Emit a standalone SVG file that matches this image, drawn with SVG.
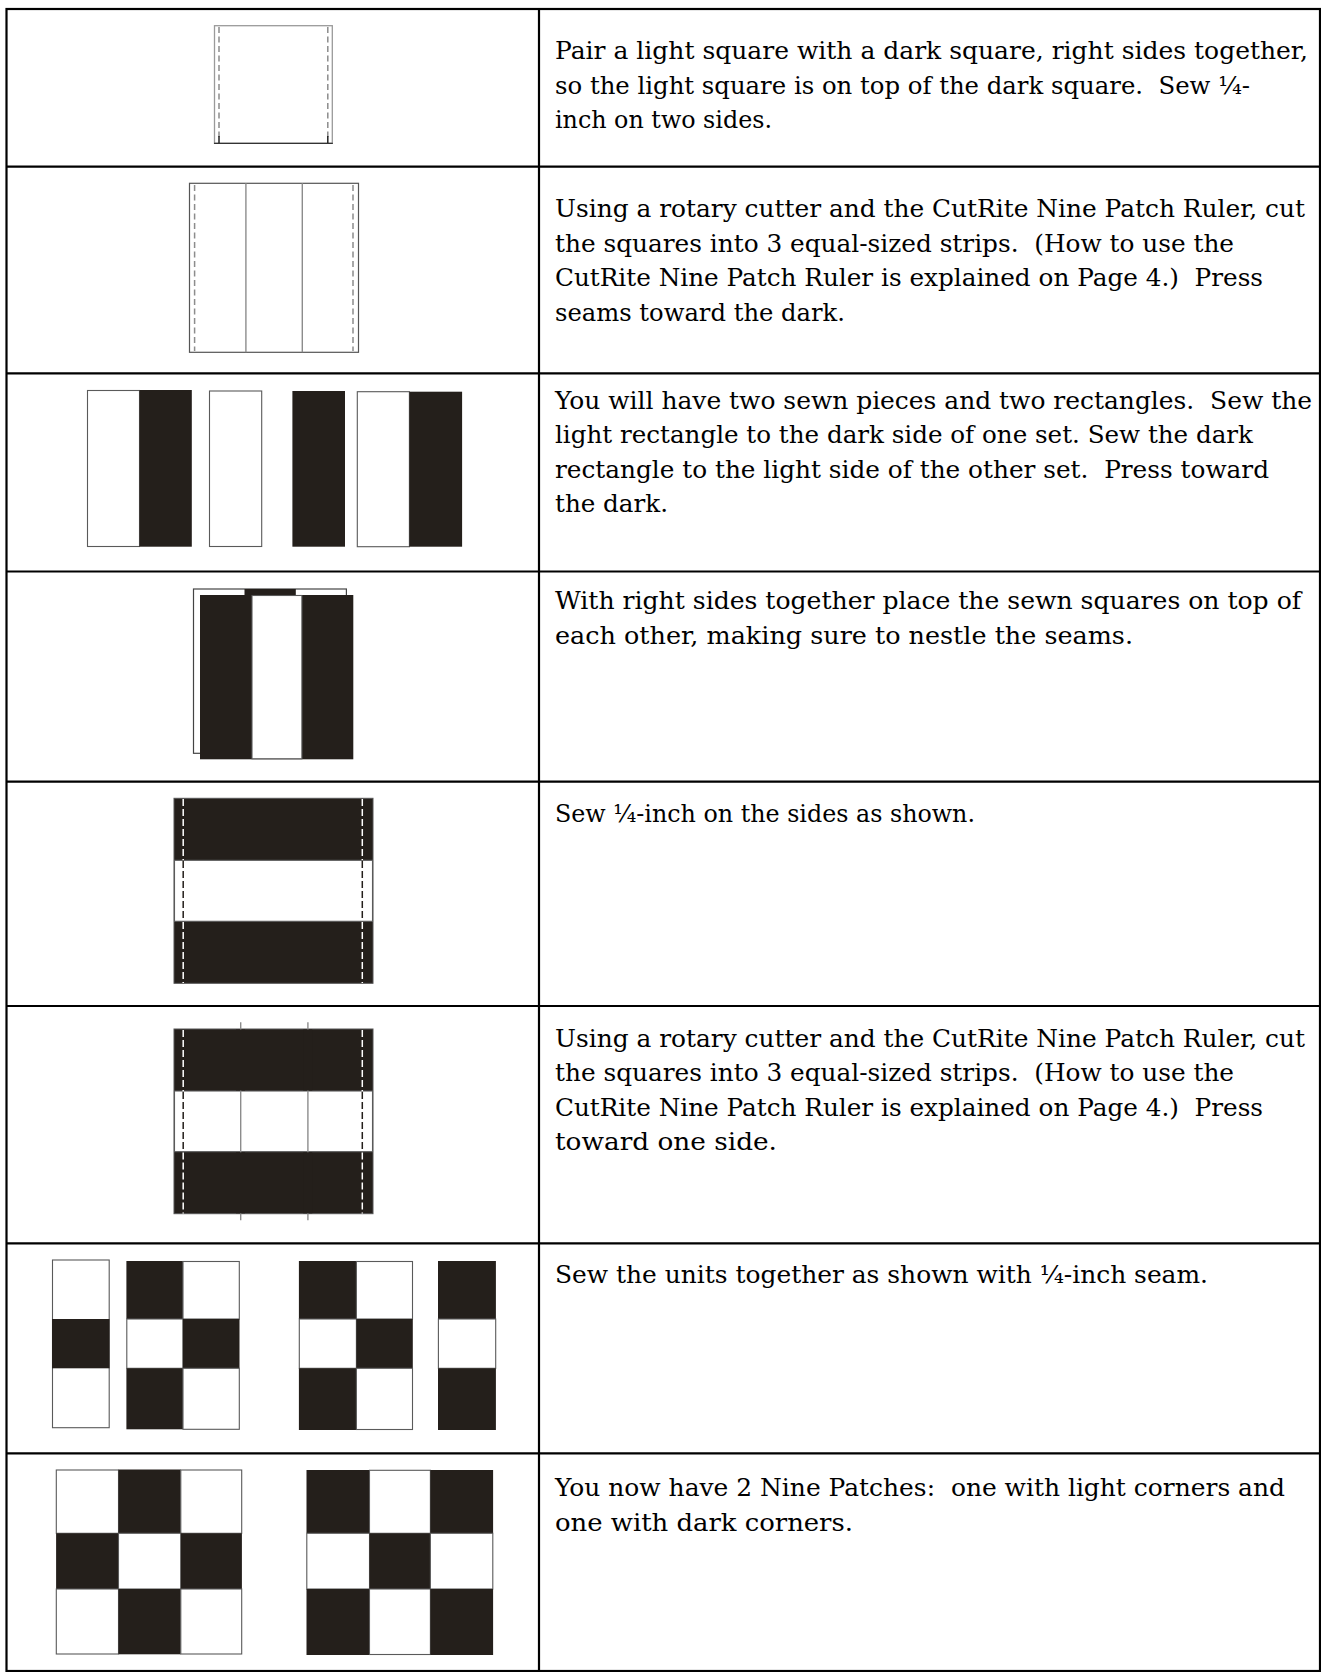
<svg xmlns="http://www.w3.org/2000/svg" width="1321" height="1672" viewBox="0 0 1321 1672" xml:space="preserve">
<style>
.bd{stroke:#000;stroke-width:2.2;fill:none}
.dk{fill:#241f1b}
.lt{fill:#fff;stroke:#5a5a5a;stroke-width:1.1}
.seam{stroke:#8c8c8c;stroke-width:1.4}
.dg{stroke:#8c8c8c;stroke-width:1.5;stroke-dasharray:6 3.5;fill:none}
.dw{stroke:#fff;stroke-width:1.5;stroke-dasharray:7 3;fill:none}
.dd{stroke:#241f1b;stroke-width:1.5;stroke-dasharray:7 3;fill:none}
.txt{font-family:"DejaVu Serif","Liberation Serif",serif;font-size:24px;fill:#000}
.txt text{white-space:pre}
</style>
<rect width="1321" height="1672" fill="#fff"/>

<g id="table">
<rect x="6.5" y="9" width="1313.5" height="1662" class="bd"/>
<line x1="539" y1="9" x2="539" y2="1671" class="bd"/>
<line x1="6.5" y1="166.7" x2="1320" y2="166.7" class="bd"/>
<line x1="6.5" y1="373.3" x2="1320" y2="373.3" class="bd"/>
<line x1="6.5" y1="571.5" x2="1320" y2="571.5" class="bd"/>
<line x1="6.5" y1="781.7" x2="1320" y2="781.7" class="bd"/>
<line x1="6.5" y1="1006" x2="1320" y2="1006" class="bd"/>
<line x1="6.5" y1="1243.3" x2="1320" y2="1243.3" class="bd"/>
<line x1="6.5" y1="1453.3" x2="1320" y2="1453.3" class="bd"/>
</g>

<g id="fig1">
<rect x="214.5" y="25.7" width="117.8" height="117.6" fill="#fff" stroke="#9a9a9a" stroke-width="1.3"/>
<line x1="214" y1="143.3" x2="332.8" y2="143.3" stroke="#333" stroke-width="1.3"/>
<line x1="219" y1="27" x2="219" y2="137" class="dg"/>
<line x1="327.8" y1="27" x2="327.8" y2="137" class="dg"/>
<line x1="219" y1="136" x2="219" y2="143" stroke="#222" stroke-width="1.5"/>
<line x1="327.8" y1="136" x2="327.8" y2="143" stroke="#222" stroke-width="1.5"/>
</g>

<g id="fig2">
<rect x="189.5" y="183.3" width="169" height="169" fill="#fff" stroke="#555" stroke-width="1.2"/>
<line x1="245.9" y1="183.3" x2="245.9" y2="352.3" class="seam"/>
<line x1="302.3" y1="183.3" x2="302.3" y2="352.3" class="seam"/>
<line x1="194.6" y1="185" x2="194.6" y2="351" class="dg"/>
<line x1="353" y1="185" x2="353" y2="351" class="dg"/>
</g>

<g id="fig3">
<rect x="87.5" y="390.5" width="52" height="156" class="lt"/>
<rect x="139.5" y="390" width="52.3" height="156.7" class="dk"/>
<rect x="209.5" y="391" width="52.2" height="155.5" class="lt"/>
<rect x="292.4" y="391" width="52.6" height="155.7" class="dk"/>
<rect x="357.3" y="391.7" width="52.1" height="155" class="lt"/>
<rect x="409.4" y="391.7" width="52.7" height="155" class="dk"/>
</g>

<g id="fig4">
<rect x="193.5" y="589" width="152.9" height="164.3" fill="#fff" stroke="#444" stroke-width="1.2"/>
<rect x="244.5" y="589" width="51.3" height="10" class="dk"/>
<rect x="200" y="595" width="153.3" height="164.3" class="dk"/>
<rect x="252" y="595.5" width="49.9" height="163.3" class="lt"/>
</g>

<g id="fig5">
<rect x="174" y="798.3" width="199" height="185" class="dk" stroke="#555" stroke-width="1"/>
<rect x="174.5" y="860.3" width="198" height="61" class="lt"/>
<line x1="183.2" y1="799" x2="183.2" y2="860" class="dw"/>
<line x1="183.2" y1="861" x2="183.2" y2="921" class="dd"/>
<line x1="183.2" y1="922" x2="183.2" y2="983" class="dw"/>
<line x1="362.3" y1="799" x2="362.3" y2="860" class="dw"/>
<line x1="362.3" y1="861" x2="362.3" y2="921" class="dd"/>
<line x1="362.3" y1="922" x2="362.3" y2="983" class="dw"/>
</g>

<g id="fig6">
<rect x="174" y="1029" width="199" height="184.7" class="dk" stroke="#555" stroke-width="1"/>
<rect x="174.5" y="1091" width="198" height="60.7" class="lt"/>
<line x1="240.7" y1="1022.3" x2="240.7" y2="1220.3" class="seam"/>
<line x1="307.9" y1="1022.3" x2="307.9" y2="1220.3" class="seam"/>
<rect x="236" y="1029.5" width="9" height="61" class="dk"/>
<rect x="303.2" y="1029.5" width="9" height="61" class="dk"/>
<rect x="236" y="1152.3" width="9" height="61" class="dk"/>
<rect x="303.2" y="1152.3" width="9" height="61" class="dk"/>
<line x1="183.2" y1="1030" x2="183.2" y2="1091" class="dw"/>
<line x1="183.2" y1="1092" x2="183.2" y2="1151" class="dd"/>
<line x1="183.2" y1="1152.5" x2="183.2" y2="1213.5" class="dw"/>
<line x1="362.3" y1="1030" x2="362.3" y2="1091" class="dw"/>
<line x1="362.3" y1="1092" x2="362.3" y2="1151" class="dd"/>
<line x1="362.3" y1="1152.5" x2="362.3" y2="1213.5" class="dw"/>
</g>

<g id="fig7">
<rect x="52.5" y="1260" width="56.7" height="167.7" class="lt"/>
<rect x="52" y="1319" width="57.5" height="49.3" class="dk"/>
<rect x="126.4" y="1261" width="56.5" height="58" class="dk"/>
<rect x="183" y="1261.5" width="56.3" height="57.5" class="lt"/>
<rect x="126.8" y="1319" width="56.1" height="49.3" class="lt"/>
<rect x="182.9" y="1319" width="56.6" height="49.3" class="dk"/>
<rect x="126.4" y="1368.3" width="56.5" height="61" class="dk"/>
<rect x="183" y="1368.3" width="56.3" height="61" class="lt"/>
<rect x="298.9" y="1261" width="57.5" height="58" class="dk"/>
<rect x="356.4" y="1261.5" width="56.1" height="57.5" class="lt"/>
<rect x="299.3" y="1319" width="57.1" height="49.3" class="lt"/>
<rect x="356.4" y="1319" width="56.4" height="49.3" class="dk"/>
<rect x="298.9" y="1368.3" width="57.5" height="61.7" class="dk"/>
<rect x="356.4" y="1368.3" width="56.1" height="61.2" class="lt"/>
<rect x="438" y="1261" width="57.9" height="58" class="dk"/>
<rect x="438.4" y="1319" width="57.3" height="49.3" class="lt"/>
<rect x="438" y="1368.3" width="57.9" height="61.7" class="dk"/>
</g>

<g id="fig8">
<rect x="56.3" y="1470" width="62.2" height="63.3" class="lt"/>
<rect x="118.5" y="1469.5" width="62.3" height="63.8" class="dk"/>
<rect x="180.8" y="1470" width="60.9" height="63.3" class="lt"/>
<rect x="56.1" y="1533.3" width="62.4" height="55.7" class="dk"/>
<rect x="118.5" y="1533.3" width="62.3" height="55.7" class="lt"/>
<rect x="180.8" y="1533.3" width="61.1" height="55.7" class="dk"/>
<rect x="56.3" y="1589" width="62.2" height="65" class="lt"/>
<rect x="118.5" y="1589" width="62.3" height="65.3" class="dk"/>
<rect x="180.8" y="1589" width="60.9" height="65" class="lt"/>

<rect x="306.5" y="1470" width="63" height="63.3" class="dk"/>
<rect x="369.5" y="1470.3" width="60.9" height="63" class="lt"/>
<rect x="430.4" y="1470" width="62.7" height="63.3" class="dk"/>
<rect x="306.8" y="1533.3" width="62.7" height="55.7" class="lt"/>
<rect x="369.5" y="1533.3" width="60.9" height="55.7" class="dk"/>
<rect x="430.4" y="1533.3" width="62.4" height="55.7" class="lt"/>
<rect x="306.5" y="1589" width="63" height="66" class="dk"/>
<rect x="369.5" y="1589" width="60.9" height="65.5" class="lt"/>
<rect x="430.4" y="1589" width="62.7" height="66" class="dk"/>
</g>

<g id="text1" class="txt">
<text x="555" y="59" textLength="753" lengthAdjust="spacingAndGlyphs">Pair a light square with a dark square, right sides together,</text>
<text x="555" y="93.5" textLength="695" lengthAdjust="spacingAndGlyphs">so the light square is on top of the dark square.  Sew ¼-</text>
<text x="555" y="128" textLength="217" lengthAdjust="spacingAndGlyphs">inch on two sides.</text>
</g>
<g id="text2" class="txt">
<text x="555" y="217" textLength="750" lengthAdjust="spacingAndGlyphs">Using a rotary cutter and the CutRite Nine Patch Ruler, cut</text>
<text x="555" y="251.5" textLength="679" lengthAdjust="spacingAndGlyphs">the squares into 3 equal-sized strips.  (How to use the</text>
<text x="555" y="286" textLength="708" lengthAdjust="spacingAndGlyphs">CutRite Nine Patch Ruler is explained on Page 4.)  Press</text>
<text x="555" y="320.5" textLength="290" lengthAdjust="spacingAndGlyphs">seams toward the dark.</text>
</g>
<g id="text3" class="txt">
<text x="555" y="408.5" textLength="757" lengthAdjust="spacingAndGlyphs">You will have two sewn pieces and two rectangles.  Sew the</text>
<text x="555" y="443" textLength="698" lengthAdjust="spacingAndGlyphs">light rectangle to the dark side of one set. Sew the dark</text>
<text x="555" y="477.5" textLength="714" lengthAdjust="spacingAndGlyphs">rectangle to the light side of the other set.  Press toward</text>
<text x="555" y="512" textLength="113" lengthAdjust="spacingAndGlyphs">the dark.</text>
</g>
<g id="text4" class="txt">
<text x="555" y="609" textLength="746" lengthAdjust="spacingAndGlyphs">With right sides together place the sewn squares on top of</text>
<text x="555" y="643.5" textLength="578" lengthAdjust="spacingAndGlyphs">each other, making sure to nestle the seams.</text>
</g>
<g id="text5" class="txt">
<text x="555" y="822" textLength="420" lengthAdjust="spacingAndGlyphs">Sew ¼-inch on the sides as shown.</text>
</g>
<g id="text6" class="txt">
<text x="555" y="1046.5" textLength="750" lengthAdjust="spacingAndGlyphs">Using a rotary cutter and the CutRite Nine Patch Ruler, cut</text>
<text x="555" y="1081" textLength="679" lengthAdjust="spacingAndGlyphs">the squares into 3 equal-sized strips.  (How to use the</text>
<text x="555" y="1115.5" textLength="708" lengthAdjust="spacingAndGlyphs">CutRite Nine Patch Ruler is explained on Page 4.)  Press</text>
<text x="555" y="1150" textLength="222" lengthAdjust="spacingAndGlyphs">toward one side.</text>
</g>
<g id="text7" class="txt">
<text x="555" y="1283" textLength="653" lengthAdjust="spacingAndGlyphs">Sew the units together as shown with ¼-inch seam.</text>
</g>
<g id="text8" class="txt">
<text x="555" y="1496" textLength="730" lengthAdjust="spacingAndGlyphs">You now have 2 Nine Patches:  one with light corners and</text>
<text x="555" y="1530.5" textLength="298" lengthAdjust="spacingAndGlyphs">one with dark corners.</text>
</g>
</svg>
